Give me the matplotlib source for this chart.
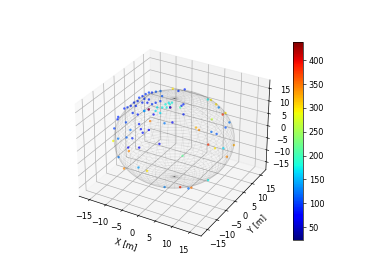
import numpy as np
import matplotlib
matplotlib.use("Agg")
import matplotlib.pyplot as plt

# Point values (depth along the view cannot be read)
x_blue = [-14.9,-14.8,-14.6,-12.6,-14.4,-13.8,-13.2,-12.8,-12.1,-12.1,-11.5,-11.0,-10.4,-9.7,-8.9,-7.9,-12.0,-12.0,-10.9,-9.7,-8.5,-7.8,-9.7,-10.8,-10.7,-9.6,-7.1,-9.4,-8.5,-7.7,-6.6,-9.5,-9.5,-7.0,-2.8,-2.0,-3.7,-10.8,-1.3,-1.6,-0.3,-3.8,-2.5,-6.9,-7.0,-10.9,-12.7]
y_blue = [-3.7,-4.2,-6.2,-3.6,-1.4,-0.8,-0.1,0.9,1.6,2.4,3.1,3.9,4.6,5.0,5.7,6.4,0.5,-1.1,2.0,2.6,3.0,3.7,3.4,2.9,-0.7,0.8,1.4,-2.2,-2.8,-3.2,-1.9,-5.5,-7.6,-6.2,-2.9,2.5,1.3,-4.3,7.1,6.6,5.4,8.8,9.9,4.6,5.7,-6.1,-7.4]
z_blue = [5.4,4.8,2.5,4.0,7.5,7.8,8.2,9.0,9.4,10.3,10.7,11.2,11.6,11.6,11.8,12.0,8.2,6.4,9.0,9.0,8.6,9.0,9.8,10.0,6.0,6.9,6.0,3.6,2.3,1.4,2.1,0.0,-2.3,-2.3,-1.4,4.0,3.8,2.1,8.6,8.2,6.0,12.0,12.4,9.4,10.7,0.2,-0.1]
v_blue = [92,88,100,105,90,95,88,92,90,96,90,95,100,92,110,120,88,92,90,85,95,92,88,95,85,80,78,85,80,82,75,90,70,78,68,75,125,120,88,92,85,95,90,100,110,115,125]

x_mint = [-5.8,-7.0,-5.4,-4.8,-4.1,-5.7,-9.6,-1.7,-4.8,-4.4,-7.0]
y_mint = [3.7,3.1,4.7,5.4,5.9,2.5,0.8,6.1,4.3,5.3,2.3]
z_mint = [7.8,7.8,8.6,9.0,9.0,6.4,6.9,7.8,7.8,8.6,6.9]
v_mint = [175,170,178,172,176,168,160,205,175,180,170]

x_other = [-8.7,-4.0,-8.7,-4.0,-7.2,-13.6,-9.0,3.9,4.8,7.8,9.2,8.3,10.2,12.1,14.2,13.7,3.6,6.7,8.7,9.2,10.6,11.0,7.1,3.8,4.6,6.2,-5.3,-10.7,-8.3,-5.2,-2.9,2.6,6.1,8.1,8.7,11.7]
y_other = [1.6,4.8,1.6,4.8,-0.2,-8.4,-8.1,4.7,4.7,6.0,6.3,3.4,3.6,4.7,6.6,3.7,-1.9,8.2,10.5,11.1,8.6,10.0,11.2,11.2,11.5,11.4,8.4,-10.5,-11.7,-9.6,-9.1,-9.5,-7.5,-6.7,-6.2,-2.7]
z_other = [7.3,7.8,7.3,7.8,4.3,-0.7,-3.2,2.7,2.1,1.6,1.1,-1.6,-2.5,-2.5,-1.7,-4.6,-4.4,4.8,6.0,6.4,2.7,4.0,7.8,9.8,9.7,8.6,12.6,-4.7,-7.5,-7.3,-8.1,-12.1,-12.1,-12.4,-12.2,-10.4]
v_other = [90,90,410,420,345,290,340,320,340,120,110,380,300,165,325,340,215,265,380,300,110,125,130,175,295,300,300,125,340,140,300,130,385,120,350,175]

sphere_radius = 15.8
ticks = [-15,-10,-5,0,5,10,15]
axis_limit = 18.3
vmin, vmax = 23, 438

plt.rcParams['font.family'] = 'DejaVu Sans'
fig = plt.figure(figsize=(6.41, 4.8), dpi=58.35)
ax = fig.add_axes([0.148, 0.108, 0.62, 0.775], projection='3d')

u = np.linspace(0, 2*np.pi, 80)
w = np.linspace(0, np.pi, 50)
sx = sphere_radius*np.outer(np.cos(u), np.sin(w))
sy = sphere_radius*np.outer(np.sin(u), np.sin(w))
sz = sphere_radius*np.outer(np.ones_like(u), np.cos(w))
ax.plot_wireframe(sx, sy, sz, color='k', alpha=0.05, linewidth=0.8)

xs = x_blue + x_mint + x_other
ys = y_blue + y_mint + y_other
zs = z_blue + z_mint + z_other
vs = v_blue + v_mint + v_other
sc = ax.scatter(xs, ys, zs, c=vs, cmap='jet', vmin=vmin, vmax=vmax, s=9, alpha=0.7,
                linewidths=0, depthshade=False)

ax.set_xlim(-axis_limit, axis_limit)
ax.set_ylim(-axis_limit, axis_limit)
ax.set_zlim(-axis_limit, axis_limit)
ax.set_xticks(ticks); ax.set_yticks(ticks); ax.set_zticks(ticks)
ax.set_xlabel('X [m]')
ax.set_ylabel('Y [m]')

cax = fig.add_axes([293/374, 1-240/280, 10/374, 198/280])
cb = fig.colorbar(sc, cax=cax)
cb.solids.set_alpha(1)
cb.set_ticks([50,100,150,200,250,300,350,400])

fig.savefig('out.png', dpi=58.35)
